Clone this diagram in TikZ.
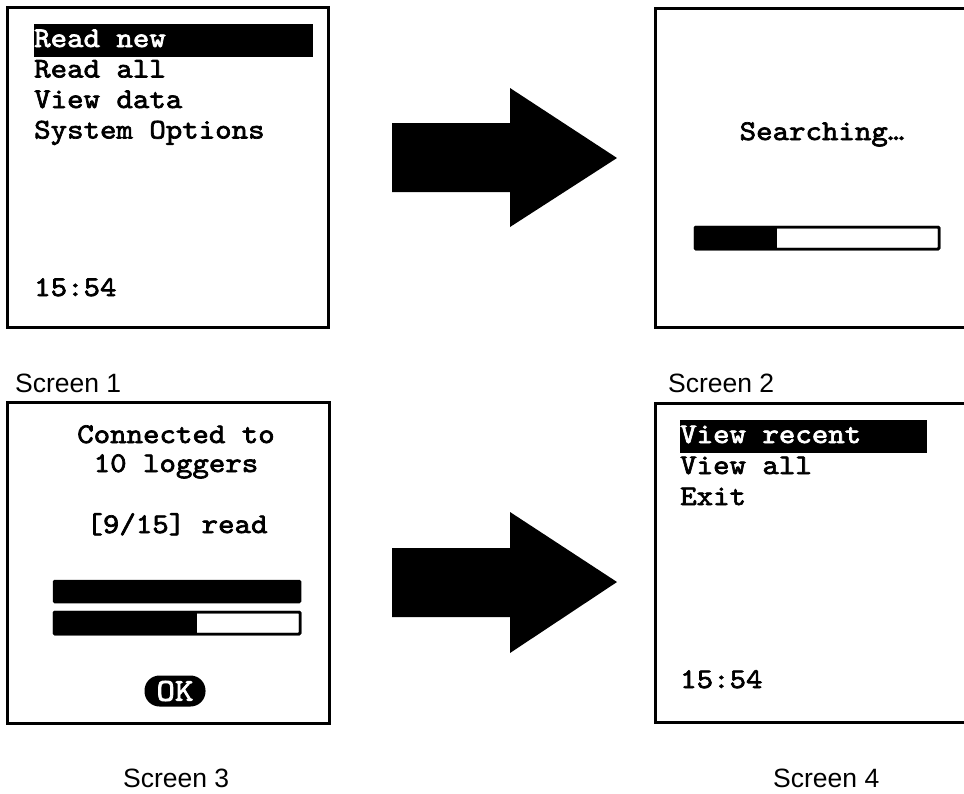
\documentclass[tikz,border=0pt]{standalone}
\usepackage{fontspec}
\setmainfont{Liberation Sans}
\newfontfamily\lcdfont[FakeBold=2.4,FakeStretch=1.1]{lmmono10-regular.otf}
\begin{document}
\begin{tikzpicture}[x=1pt,y=-1pt,
  screen/.style={draw=black, line width=3pt, fill=white},
  lcd/.style={font=\lcdfont\fontsize{28.5}{28.5}\selectfont, inner sep=0pt, anchor=base west},
  lcdc/.style={lcd, anchor=base},
  hl/.style={fill=black},
  caption/.style={font=\fontsize{26.5}{26.5}\selectfont, inner sep=0pt, anchor=base west},
  bar/.style={draw=black, line width=2.5pt, rounded corners=1pt},
  okbtn/.style={fill=black, text=white, rounded corners=15pt, minimum width=61pt, minimum height=31pt, inner sep=0pt, font=\lcdfont\fontsize{32}{32}\selectfont},
  bigarrow/.style={fill=black}]
\useasboundingbox (0,0) rectangle (964,793);

% Screen 1
\draw[screen] (7,7) rectangle (328,327);
\fill[hl] (34,24) rectangle (313,57);
\node[lcd, text=white] (s1a) at (34,47) {Read new};
\node[lcd] (s1b) at (34,77.5) {Read all};
\node[lcd] (s1c) at (34,108) {View data};
\node[lcd] (s1d) at (34,138.5) {System Options};
\node[lcd] (s1t) at (34,296) {15:54};
\node[caption] (c1) at (15,392) {Screen 1};

% Arrow 1
\fill[bigarrow] (392,123) -- (510,123) -- (510,88) -- (617,158) -- (510,227) -- (510,192) -- (392,192) -- cycle;

% Screen 2
\draw[line width=3pt] (966,8) -- (655,8) -- (655,327) -- (966,327);
\node[lcdc] (s2a) at (822,140) {Searching\ldots};
\draw[bar, fill=white] (695,227) rectangle (939,249);
\fill[black] (695,227) rectangle (777,249);
\draw[bar] (695,227) rectangle (939,249);
\node[caption] (c2) at (668,392) {Screen 2};

% Screen 3
\draw[screen] (7,402) rectangle (329,723);
\node[lcdc] (s3a) at (176,443) {Connected to};
\node[lcdc] (s3b) at (176,472) {10 loggers};
\node[lcdc] (s3c) at (177,533) {[9/15] read};
\draw[bar, fill=black] (54,581) rectangle (300,602);
\draw[bar, fill=white] (54,612) rectangle (300,634);
\fill[black] (54,612) rectangle (197,634);
\draw[bar] (54,612) rectangle (300,634);
\node[okbtn] (ok) at (175,691) {OK};
\node[caption] (c3) at (123,787) {Screen 3};

% Arrow 2
\fill[bigarrow] (392,548) -- (510,548) -- (510,512) -- (617,582) -- (510,653) -- (510,617) -- (392,617) -- cycle;

% Screen 4
\draw[line width=3pt] (966,403) -- (655,403) -- (655,722) -- (966,722);
\fill[hl] (680,420) rectangle (927,453);
\node[lcd, text=white] (s4a) at (680,443) {View recent};
\node[lcd] (s4b) at (680,474) {View all};
\node[lcd] (s4c) at (680,505) {Exit};
\node[lcd] (s4t) at (680,688) {15:54};
\node[caption] (c4) at (773,787) {Screen 4};
\end{tikzpicture}
\end{document}
